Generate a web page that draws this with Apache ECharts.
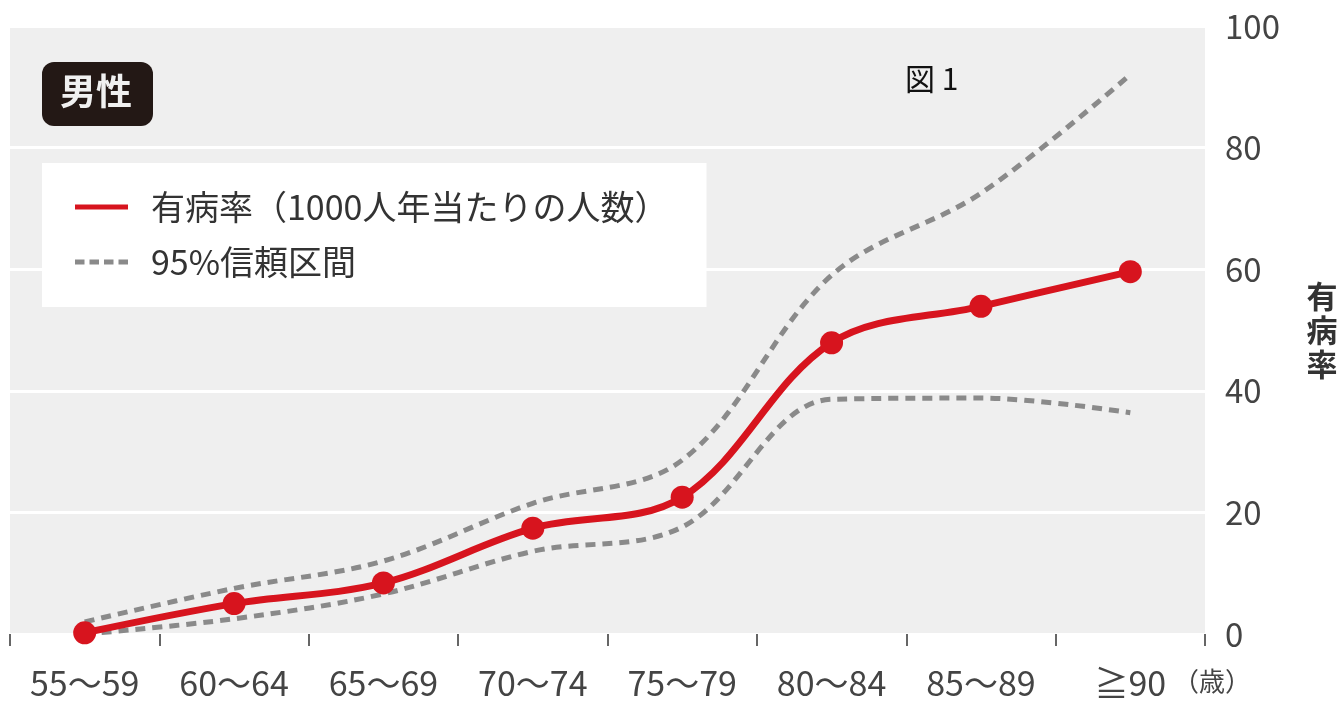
<!DOCTYPE html>
<html>
<head>
<meta charset="utf-8">
<script src="https://cdn.jsdelivr.net/npm/echarts@6/dist/echarts.min.js"></script>
<style>
html,body{margin:0;padding:0;background:#fff;}
#c{width:1343px;height:701px;}
</style>
</head>
<body>
<div id="c"></div>
<script>
const categories = ['55～59','60～64','65～69','70～74','75～79','80～84','85～89','≧90'];
const rate  = [0.2, 5.0, 8.4, 17.4, 22.5, 47.9, 53.9, 59.6];
const upper = [2.0, 7.5, 12.0, 21.5, 28.6, 59.0, 72.5, 92.0];
const lower = [0.0, 2.5, 6.6, 13.6, 17.6, 38.6, 38.8, 36.4];
const yTicks = [0, 20, 40, 60, 80, 100];
const rateName = '有病率（1000人年当たりの人数）';
const ciName = '95%信頼区間';

const FONT = '"Noto Sans CJK JP", "Noto Sans", sans-serif';
const RED = '#d7141e';
const GRAY = '#8a8a8a';

const chart = echarts.init(document.getElementById('c'), null, {renderer: 'canvas'});
chart.setOption({
  backgroundColor: '#ffffff',
  animation: false,
  textStyle: {fontFamily: FONT},
  grid: {
    left: 10, right: 138, top: 26, bottom: 67,
    show: true, backgroundColor: '#efefef', borderWidth: 0
  },
  legend: {
    orient: 'vertical',
    left: 42, top: 163,
    backgroundColor: '#ffffff',
    padding: [27, 38, 28, 33],
    itemGap: 21,
    itemWidth: 53,
    itemHeight: 5,
    textStyle: {fontFamily: FONT, fontSize: 34, color: '#333', padding: [0, 0, 0, 18]},
    data: [
      {name: rateName, icon: 'path://M0,0H53V5H0Z'},
      {name: ciName, icon: 'path://M0,0H9.5V5H0Z M14.5,0H24V5H14.5Z M29,0H38.5V5H29Z M43.5,0H53V5H43.5Z'}
    ]
  },
  xAxis: {
    type: 'category',
    data: categories,
    boundaryGap: true,
    offset: 5,
    axisLine: {show: false},
    axisTick: {show: true, length: 12, lineStyle: {color: '#666', width: 2}},
    axisLabel: {fontFamily: FONT, fontSize: 34, color: '#444', margin: 27},
    name: '（歳）',
    nameLocation: 'end',
    nameGap: -32,
    nameTextStyle: {fontFamily: FONT, fontSize: 26, color: '#444', verticalAlign: 'top', padding: [34, 0, 0, 0]}
  },
  yAxis: {
    type: 'value',
    position: 'right',
    min: yTicks[0], max: yTicks[yTicks.length - 1], interval: 20,
    axisLine: {show: false},
    axisTick: {show: false},
    splitLine: {show: true, lineStyle: {color: '#ffffff', width: 3}},
    axisLabel: {fontFamily: FONT, fontSize: 33, color: '#444', margin: 20},
    name: '有\n病\n率',
    nameLocation: 'middle',
    nameRotate: 0,
    nameGap: 117,
    nameTextStyle: {fontFamily: FONT, fontSize: 31, fontWeight: 'bold', color: '#333', lineHeight: 34, align: 'center', verticalAlign: 'middle'}
  },
  series: [
    {
      name: ciName, type: 'line', data: upper, smooth: 0.35,
      symbol: 'none', z: 2,
      lineStyle: {color: GRAY, width: 5, type: [10, 7]},
      itemStyle: {color: GRAY}
    },
    {
      name: ciName, type: 'line', data: lower, smooth: 0.35,
      symbol: 'none', z: 2,
      lineStyle: {color: GRAY, width: 5, type: [10, 7]},
      itemStyle: {color: GRAY}
    },
    {
      name: rateName, type: 'line', data: rate, smooth: 0.35,
      symbol: 'none', z: 3,
      lineStyle: {color: RED, width: 7},
      itemStyle: {color: RED}
    },
    {
      name: 'rate-points', type: 'scatter', data: rate,
      symbol: 'circle', symbolSize: 23, z: 4,
      itemStyle: {color: RED, opacity: 1}
    }
  ],
  graphic: [
    {
      type: 'rect', left: 42, top: 62, z: 10,
      shape: {width: 111, height: 64, r: 12},
      style: {fill: '#231815'}
    },
    {
      type: 'text', left: 60, top: 73, z: 11,
      style: {text: '男性', fill: '#f0f0f0', font: 'bold 36px ' + FONT}
    },
    {
      type: 'text', left: 905, top: 64, z: 11,
      style: {text: '図 1', fill: '#111', font: '30px ' + FONT}
    }
  ]
});
</script>
</body>
</html>
